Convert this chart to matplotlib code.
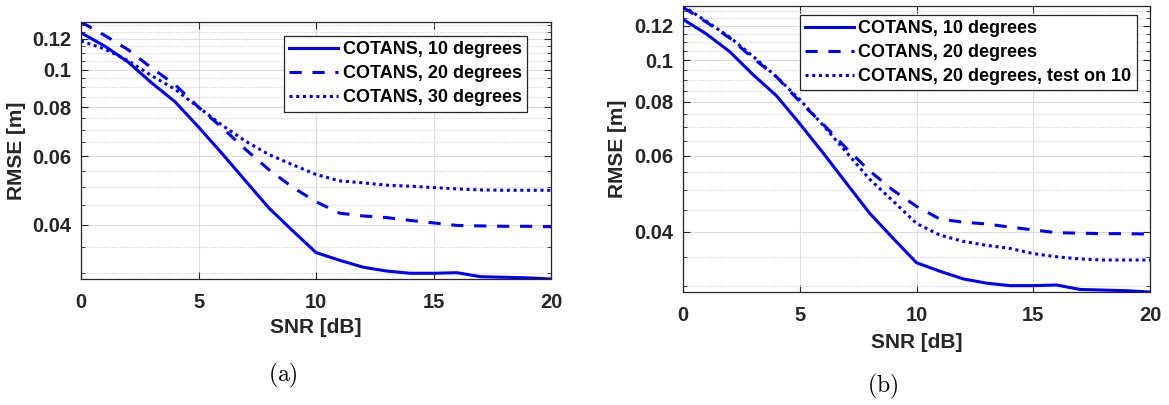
import numpy as np
import matplotlib
matplotlib.use('Agg')
import matplotlib.pyplot as plt
from matplotlib.ticker import NullFormatter

plt.rcParams['font.family'] = ['Liberation Sans', 'DejaVu Sans']
plt.rcParams['font.weight'] = 'bold'
plt.rcParams['mathtext.fontset'] = 'cm'

# data
snr = list(range(21))
rmse_10deg = [0.1243, 0.1150, 0.1046, 0.0925, 0.0827, 0.0712, 0.0609, 0.0518, 0.0441, 0.0386, 0.0339,
              0.0324, 0.0311, 0.0304, 0.0300, 0.0300, 0.0301, 0.0294, 0.0293, 0.0292, 0.0290]
rmse_20deg = [0.1325, 0.1225, 0.1125, 0.1010, 0.0915, 0.0801, 0.0710, 0.0624, 0.0553, 0.0499, 0.0458,
              0.0428, 0.0421, 0.0417, 0.0410, 0.0404, 0.0398, 0.0397, 0.0396, 0.0396, 0.0395]
rmse_30deg = [0.1185, 0.1130, 0.1055, 0.0965, 0.0890, 0.0800, 0.0720, 0.0655, 0.0605, 0.0570, 0.0538,
              0.0518, 0.0512, 0.0505, 0.0502, 0.0498, 0.0494, 0.0491, 0.0490, 0.0490, 0.0490]
rmse_20deg_test10 = [0.1335, 0.1230, 0.1130, 0.1020, 0.0915, 0.0810, 0.0706, 0.0611, 0.0529, 0.0471, 0.0418,
                     0.0393, 0.0380, 0.0372, 0.0366, 0.0356, 0.0350, 0.0346, 0.0344, 0.0344, 0.0344]

labels_a = ['COTANS, 10 degrees', 'COTANS, 20 degrees', 'COTANS, 30 degrees']
labels_b = ['COTANS, 10 degrees', 'COTANS, 20 degrees', 'COTANS, 20 degrees, test on 10']

xticks = [0, 5, 10, 15, 20]
yticks = [0.04, 0.06, 0.08, 0.1, 0.12]
yticklabels = ['0.04', '0.06', '0.08', '0.1', '0.12']
yminor = [0.03, 0.035, 0.045, 0.05, 0.055, 0.065, 0.07, 0.075, 0.085, 0.09, 0.095,
          0.105, 0.11, 0.115, 0.125, 0.13]

BLUE = (0, 0, 1)
AXC = '#262626'
LW = 2.2
styles = ['-', (0, (4, 3.5)), (0, (1, 1.2))]

fig = plt.figure(figsize=(11.69, 4.05), dpi=100)
ax_a = fig.add_axes([0.0693, 0.3111, 0.4021, 0.6346])
ax_b = fig.add_axes([0.5843, 0.2790, 0.3995, 0.7062])


def style_axes(ax, series, labels, legend_box, xlab_y):
    for ys, ls, lab in zip(series, styles, labels):
        ax.plot(snr, ys, color=BLUE, lw=LW, linestyle=ls, label=lab)
    ax.set_yscale('log')
    ax.set_xlim(0, 20)
    allv = np.concatenate([np.array(s) for s in series])
    ax.set_ylim(allv.min(), allv.max())
    ax.set_xticks(xticks)
    ax.set_yticks(yticks, yticklabels)
    ax.set_yticks(yminor, minor=True)
    ax.yaxis.set_minor_formatter(NullFormatter())
    ax.grid(True, which='major', color='#dedede', lw=0.8, ls='-')
    ax.grid(True, which='minor', axis='y', color='#cfcfcf', lw=0.8, ls=(0, (1, 1.5)))
    ax.set_axisbelow(True)
    ax.tick_params(which='both', direction='in', top=True, right=True, color=AXC,
                   labelsize=14.5, labelcolor=AXC, pad=7)
    ax.tick_params(axis='x', pad=10)
    ax.tick_params(which='major', length=5)
    ax.tick_params(which='minor', length=3)
    for s in ax.spines.values():
        s.set_color(AXC)
        s.set_linewidth(0.9)
    ax.set_xlabel('SNR [dB]', fontsize=15, fontweight='bold', color=AXC)
    ax.set_ylabel('RMSE [m]', fontsize=15, fontweight='bold', color=AXC)
    ax.xaxis.set_label_coords(0.5, xlab_y)
    leg = ax.legend(loc='upper right', bbox_to_anchor=legend_box, fontsize=13,
                    handlelength=2.7, handletextpad=0.25, labelspacing=0.38,
                    borderpad=0.3, borderaxespad=0, fancybox=False, framealpha=1)
    leg.get_frame().set_edgecolor(AXC)
    leg.get_frame().set_linewidth(0.9)
    for t in leg.get_texts():
        t.set_color('black')


style_axes(ax_a, [rmse_10deg, rmse_20deg, rmse_30deg], labels_a, (0.949, 0.9455), -0.152)
style_axes(ax_b, [rmse_10deg, rmse_20deg, rmse_20deg_test10], labels_b, (0.972, 0.969), -0.143)
ax_a.yaxis.set_label_coords(-0.118, 0.5)
ax_b.yaxis.set_label_coords(-0.12, 0.5)

fig.text(283 / 1169, 1 - 375 / 405, r'$\mathrm{(a)}$', fontsize=17, ha='center', va='center')
fig.text(883 / 1169, 1 - 386 / 405, r'$\mathrm{(b)}$', fontsize=17, ha='center', va='center')

fig.savefig('out.png', dpi=100)
